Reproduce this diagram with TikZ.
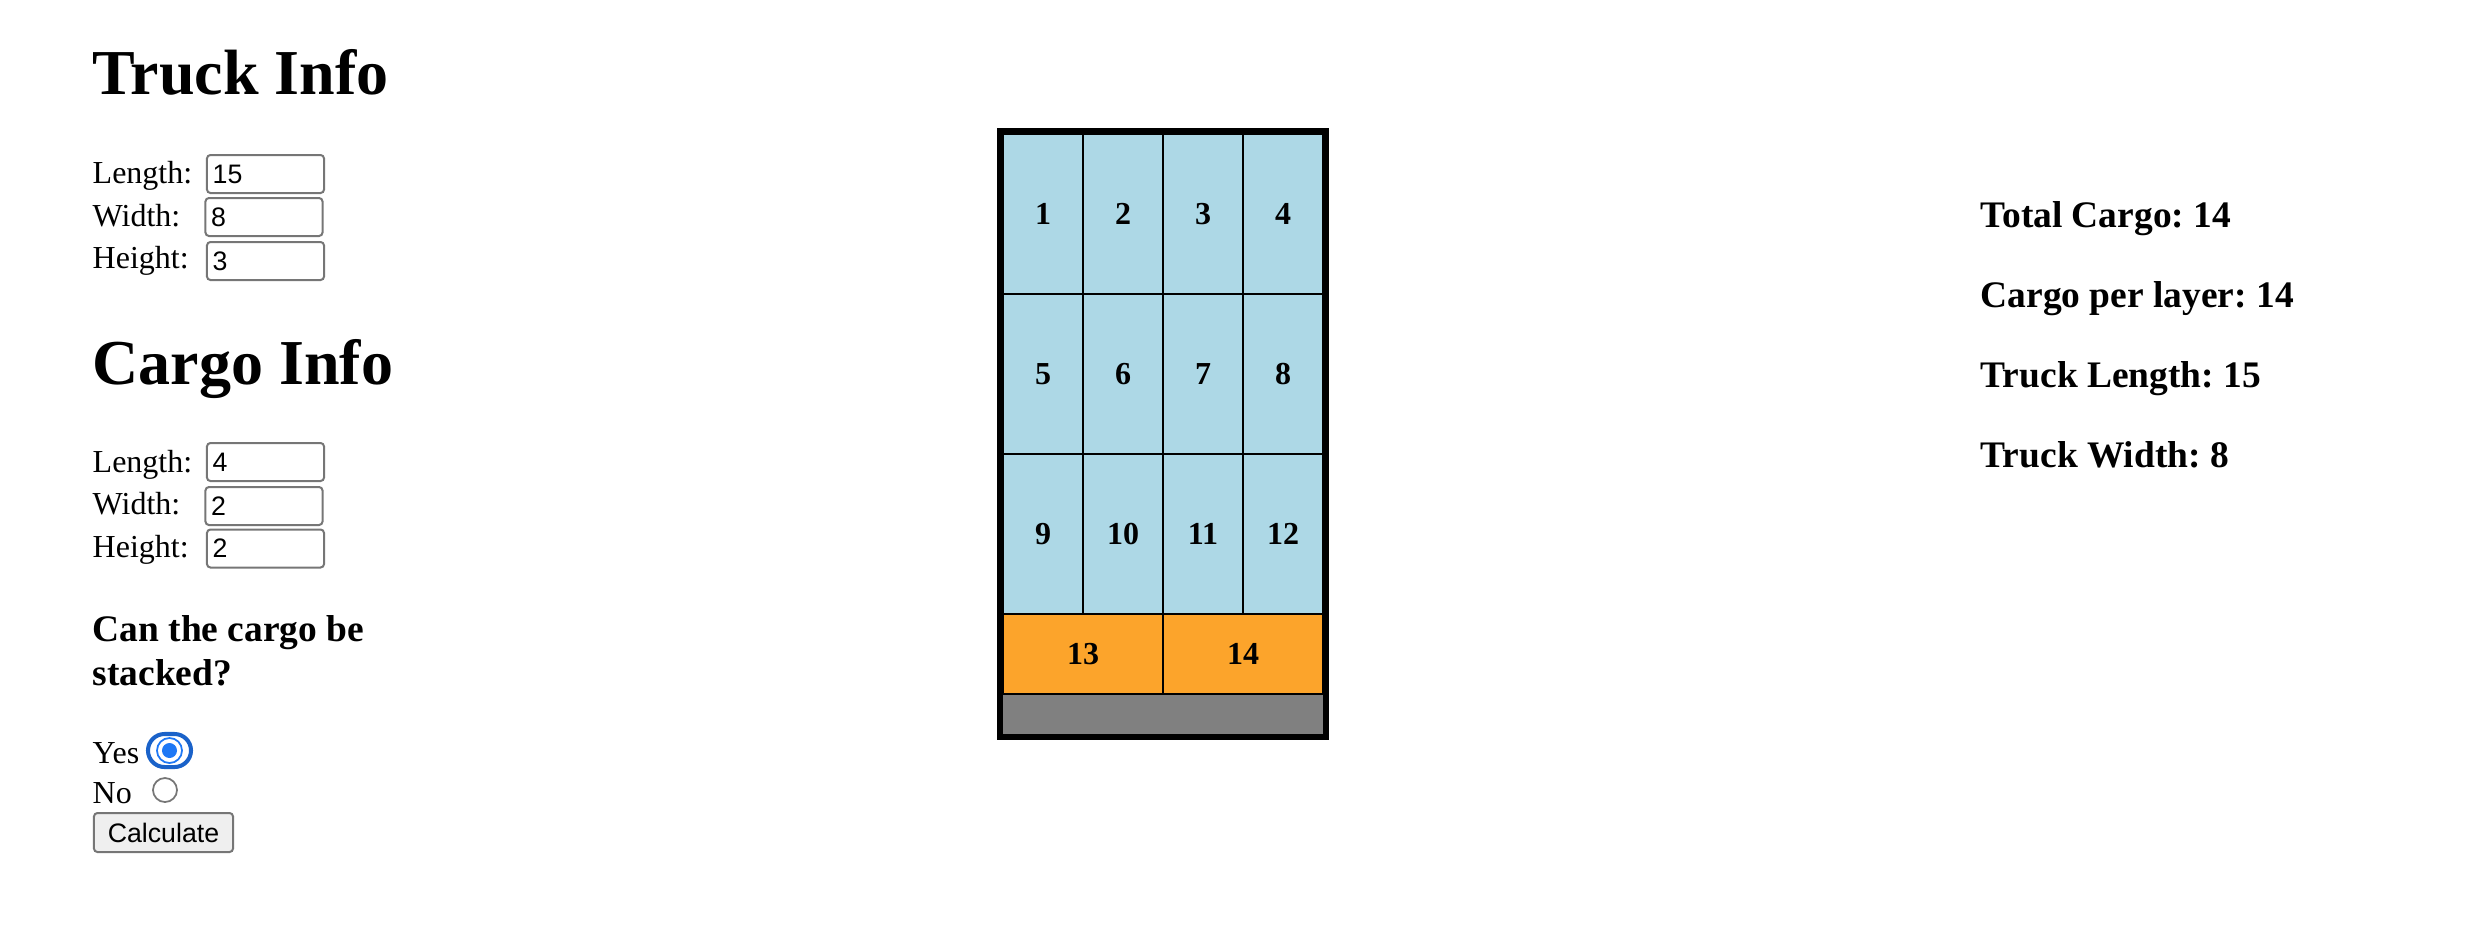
\documentclass[tikz,border=0pt]{standalone}
\usepackage{fontspec}
\setmainfont{Liberation Serif}
\newfontfamily\formfont{Liberation Sans}
\usetikzlibrary{positioning}
\frenchspacing

\definecolor{cargoblue}{HTML}{ADD8E6}
\definecolor{cargoorange}{HTML}{FCA42B}
\definecolor{floorgray}{HTML}{808080}
\definecolor{fieldgray}{HTML}{767676}
\definecolor{buttongray}{HTML}{EFEFEF}
\definecolor{focusblue}{HTML}{1A62C9}
\definecolor{radioblue}{HTML}{1E78F5}

\tikzstyle{heading} = [anchor=base west, inner sep=0pt, font=\fontsize{18.2pt}{22pt}\selectfont\bfseries]
\tikzstyle{question} = [anchor=base west, inner sep=0pt, align=left, font=\fontsize{10.65pt}{12.25pt}\selectfont\bfseries]
\tikzstyle{result} = [anchor=base west, inner sep=0pt, font=\fontsize{10.65pt}{12.25pt}\selectfont\bfseries]
\tikzstyle{fieldlabel} = [anchor=base west, inner sep=0pt, font=\fontsize{9.1pt}{11pt}\selectfont]
\tikzstyle{inputbox} = [rectangle, rounded corners=1pt, draw=fieldgray, line width=0.57pt, minimum width=1.17cm, minimum height=0.38cm, inner sep=0pt]
\tikzstyle{inputval} = [inner sep=0pt, font=\formfont\fontsize{7.6pt}{9pt}\selectfont]
\tikzstyle{truckbox} = [rectangle, draw=black, line width=1.7pt, fill=floorgray, minimum width=3.26cm, minimum height=6.06cm, inner sep=0pt]
\tikzstyle{cargo} = [rectangle, draw=black, line width=0.57pt, minimum width=0.8cm, minimum height=1.6cm, fill=cargoblue, inner sep=0pt, font=\fontsize{9.1pt}{11pt}\selectfont\bfseries]
\tikzstyle{cargoturned} = [cargo, minimum width=1.6cm, minimum height=0.8cm, fill=cargoorange]
\tikzstyle{radio} = [circle, draw=fieldgray, line width=0.5pt, minimum size=0.24cm, inner sep=0pt]
\tikzstyle{button} = [rectangle, rounded corners=1pt, draw=fieldgray, line width=0.57pt, fill=buttongray, minimum width=1.39cm, minimum height=0.39cm, inner sep=0pt, font=\formfont\fontsize{7.6pt}{9pt}\selectfont]

\begin{document}
\begin{tikzpicture}[x=0.01cm, y=-0.01cm, node distance=0.06cm]
    \useasboundingbox (0,0) rectangle (2478,944);

    %truck form
    \node (truckhead) [heading] at (92,94) {Truck Info};
    \node (tlen) [fieldlabel] at (92,183) {Length:};
    \node (twid) [fieldlabel] at (92,226) {Width:};
    \node (thgt) [fieldlabel] at (92,268) {Height:};
    \node (tlenbox) [inputbox] at (265.5,174) {};
    \node (twidbox) [inputbox] at (264,217) {};
    \node (thgtbox) [inputbox] at (265.5,261) {};
    \node (tlenval) [inputval, right=of tlenbox.west] {15};
    \node (twidval) [inputval, right=of twidbox.west] {8};
    \node (thgtval) [inputval, right=of thgtbox.west] {3};

    %cargo form
    \node (cargohead) [heading] at (92,384) {Cargo Info};
    \node (clen) [fieldlabel] at (92,472) {Length:};
    \node (cwid) [fieldlabel] at (92,514) {Width:};
    \node (chgt) [fieldlabel] at (92,557) {Height:};
    \node (clenbox) [inputbox] at (265.5,462) {};
    \node (cwidbox) [inputbox] at (264,506) {};
    \node (chgtbox) [inputbox] at (265.5,548.5) {};
    \node (clenval) [inputval, right=of clenbox.west] {4};
    \node (cwidval) [inputval, right=of cwidbox.west] {2};
    \node (chgtval) [inputval, right=of chgtbox.west] {2};

    \node (stackq) [question] at (92,685) {Can the cargo be\\stacked?};
    \node (yes) [fieldlabel] at (92,763) {Yes};
    \node (no) [fieldlabel] at (92,803) {No};
    \node (yesring) [rectangle, rounded corners=0.165cm, draw=focusblue, line width=1.15pt, minimum width=0.43cm, minimum height=0.33cm, inner sep=0pt] at (169.5,750.5) {};
    \node (yesradio) [radio, draw=radioblue, minimum size=0.25cm] at (yesring.center) {};
    \node (yesdot) [circle, fill=radioblue, minimum size=0.15cm, inner sep=0pt] at (yesradio.center) {};
    \node (noradio) [radio] at (165,790) {};
    \node (calc) [button] at (163.5,832.5) {Calculate};

    %truck layout
    \node (truck) [truckbox] at (1163,434) {};
    \node (c1) [cargo] at (1043,214) {1};
    \node (c2) [cargo] at (1123,214) {2};
    \node (c3) [cargo] at (1203,214) {3};
    \node (c4) [cargo] at (1283,214) {4};
    \node (c5) [cargo] at (1043,374) {5};
    \node (c6) [cargo] at (1123,374) {6};
    \node (c7) [cargo] at (1203,374) {7};
    \node (c8) [cargo] at (1283,374) {8};
    \node (c9) [cargo] at (1043,534) {9};
    \node (c10) [cargo] at (1123,534) {10};
    \node (c11) [cargo] at (1203,534) {11};
    \node (c12) [cargo] at (1283,534) {12};
    \node (c13) [cargoturned] at (1083,654) {13};
    \node (c14) [cargoturned] at (1243,654) {14};

    %results
    \node (total) [result] at (1980,227) {Total Cargo: 14};
    \node (perlayer) [result] at (1980,307) {Cargo per layer: 14};
    \node (trucklen) [result] at (1980,387) {Truck Length: 15};
    \node (truckwid) [result] at (1980,467) {Truck Width: 8};

\end{tikzpicture}
\end{document}
